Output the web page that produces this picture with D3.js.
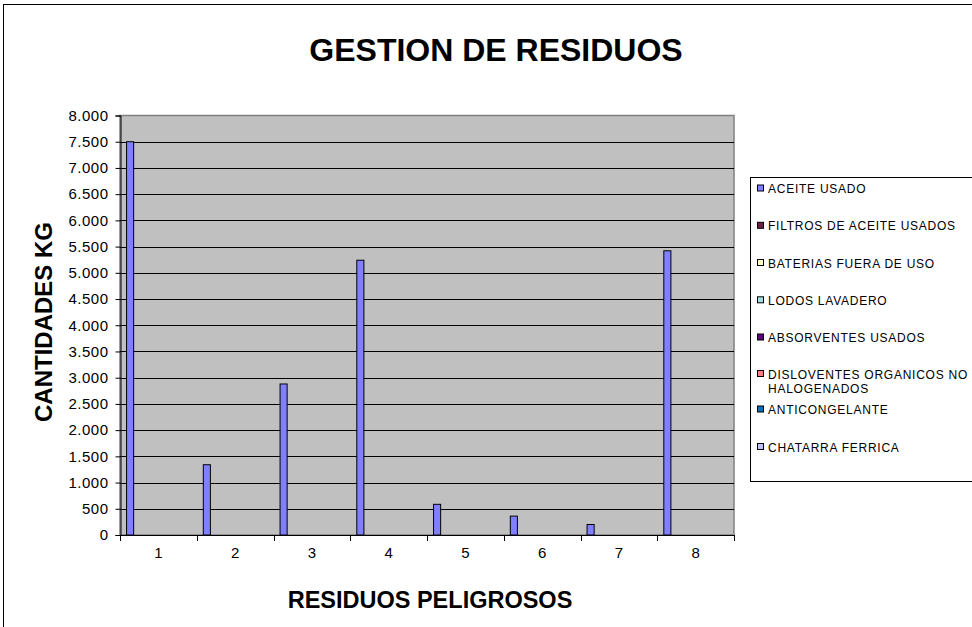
<!DOCTYPE html>
<html><head><meta charset="utf-8">
<script src="https://cdn.jsdelivr.net/npm/d3@7"></script>
<style>
html,body{margin:0;padding:0;background:#fff;}
svg{display:block;font-family:"Liberation Sans",Arial,sans-serif;}
</style></head>
<body>
<svg id="chart" width="972" height="627"></svg>
<script>
const categories = ["1","2","3","4","5","6","7","8"];
const seriesNames = ["ACEITE USADO","FILTROS DE ACEITE USADOS","BATERIAS FUERA DE USO","LODOS LAVADERO","ABSORVENTES USADOS","DISLOVENTES ORGANICOS NO HALOGENADOS","ANTICONGELANTE","CHATARRA FERRICA"];
const seriesColors = ["#8080ff","#6e1f4a","#ffffc0","#a0e0e0","#600080","#ff8080","#0070c0","#c0c0ff"];
const aceiteUsado = [7500, 1340, 2880, 5240, 585, 360, 200, 5420];
const filtros = [null,null,null,null,null,null,null,null];
const baterias = [null,null,null,null,null,null,null,null];
const lodos = [null,null,null,null,null,null,null,null];
const absorventes = [null,null,null,null,null,null,null,null];
const disolventes = [null,null,null,null,null,null,null,null];
const anticongelante = [null,null,null,null,null,null,null,null];
const chatarra = [null,null,null,null,null,null,null,null];
const yTicks = [0,500,1000,1500,2000,2500,3000,3500,4000,4500,5000,5500,6000,6500,7000,7500,8000];
const title = "GESTION DE RESIDUOS";
const xTitle = "RESIDUOS PELIGROSOS";
const yTitle = "CANTIDADES KG";

const seriesValues = [aceiteUsado, filtros, baterias, lodos, absorventes, disolventes, anticongelante, chatarra];

const svg = d3.select("#chart");
const W = 972, H = 627;
const plot = {left:120, right:734, top:115.5, bottom:535};

// outer chart border
svg.append("rect").attr("x",3.5).attr("y",4.5).attr("width",W+20).attr("height",H+20)
  .attr("fill","#fff").attr("stroke","#000").attr("stroke-width",1);

const x = d3.scaleBand().domain(categories).range([plot.left, plot.right]).padding(0);
const xs = d3.scaleBand().domain(seriesNames).range([0, x.bandwidth()]).paddingInner(0).paddingOuter(0.75);
const y = d3.scaleLinear().domain([0,8000]).range([plot.bottom, plot.top]);
const loc = d3.formatLocale({decimal:",", thousands:".", grouping:[3], currency:["",""]});
const fmt = loc.format(",");

// plot background
svg.append("rect").attr("x",plot.left).attr("y",plot.top).attr("width",plot.right-plot.left).attr("height",plot.bottom-plot.top)
  .attr("fill","#c0c0c0").attr("stroke","#808080").attr("stroke-width",1.5);

// gridlines
svg.append("g").selectAll("line").data(yTicks.filter(t=>t>0 && t<8000)).join("line")
  .attr("x1",plot.left).attr("x2",plot.right)
  .attr("y1",d=>Math.round(y(d))+0.5).attr("y2",d=>Math.round(y(d))+0.5)
  .attr("stroke","#000").attr("stroke-width",1);

// bars
const flat = [];
seriesValues.forEach((vals,si)=>vals.forEach((v,ci)=>{ if(v!=null) flat.push({s:seriesNames[si], c:categories[ci], v, col:seriesColors[si]}); }));
svg.append("g").selectAll("rect").data(flat).join("rect")
  .attr("x",d=>x(d.c)+xs(d.s)+0.5)
  .attr("y",d=>y(d.v))
  .attr("width",xs.bandwidth()-1)
  .attr("height",d=>plot.bottom-y(d.v))
  .attr("fill",d=>d.col).attr("stroke","#000").attr("stroke-width",1);

// y axis
const yAxis = d3.axisLeft(y).tickValues(yTicks).tickFormat(fmt).tickSize(5).tickPadding(7);
const gy = svg.append("g").attr("transform",`translate(${plot.left+0.5},0)`).call(yAxis);
gy.select(".domain").attr("stroke","#000");
gy.selectAll(".tick line").attr("stroke","#000");
gy.selectAll("text").attr("font-size",15).attr("letter-spacing","0.5px").attr("fill","#000").attr("font-family","Liberation Sans, Arial, sans-serif");

// x axis
const xAxis = d3.axisBottom(x).tickSize(0).tickPadding(12);
const gx = svg.append("g").attr("transform",`translate(0,${plot.bottom+0.5})`).call(xAxis);
gx.select(".domain").attr("stroke","#000").attr("d",`M${plot.left},0H${plot.right}`);
gx.selectAll("text").attr("font-size",15).attr("fill","#000").attr("font-family","Liberation Sans, Arial, sans-serif");
// category boundary ticks
svg.append("g").selectAll("line").data(categories).join("line")
  .attr("x1",d=>Math.round(x(d))+0.5).attr("x2",d=>Math.round(x(d))+0.5)
  .attr("y1",plot.bottom).attr("y2",plot.bottom+6).attr("stroke","#000");
svg.append("line").attr("x1",plot.right+0.5).attr("x2",plot.right+0.5).attr("y1",plot.bottom).attr("y2",plot.bottom+6).attr("stroke","#000");

// titles
svg.append("text").attr("x",496).attr("y",61).attr("text-anchor","middle")
  .attr("font-size",32).attr("font-weight","bold").text(title);
svg.append("text").attr("x",430).attr("y",608).attr("text-anchor","middle")
  .attr("font-size",23.5).attr("font-weight","bold").text(xTitle);
svg.append("text").attr("transform",`translate(52,322) rotate(-90)`).attr("text-anchor","middle")
  .attr("font-size",24).attr("font-weight","bold").text(yTitle);

// legend
const lg = svg.append("g");
lg.append("rect").attr("x",750.5).attr("y",177.5).attr("width",260).attr("height",304)
  .attr("fill","#fff").attr("stroke","#000");
const legendRows = [
  {name:seriesNames[0], lines:["ACEITE USADO"], yc:188.5},
  {name:seriesNames[1], lines:["FILTROS DE ACEITE USADOS"], yc:225.8},
  {name:seriesNames[2], lines:["BATERIAS FUERA DE USO"], yc:263},
  {name:seriesNames[3], lines:["LODOS LAVADERO"], yc:300.3},
  {name:seriesNames[4], lines:["ABSORVENTES USADOS"], yc:337.5},
  {name:seriesNames[5], lines:["DISLOVENTES ORGANICOS NO","HALOGENADOS"], yc:374},
  {name:seriesNames[6], lines:["ANTICONGELANTE"], yc:409.5},
  {name:seriesNames[7], lines:["CHATARRA FERRICA"], yc:447}
];
const items = lg.selectAll("g").data(legendRows).join("g");
items.append("rect").attr("x",757.5).attr("y",d=>d.yc-3.5).attr("width",6).attr("height",6)
  .attr("fill",(d,i)=>seriesColors[i]).attr("stroke","#000");
items.each(function(d){
  const t = d3.select(this).append("text").attr("x",768).attr("y",d.yc+4.5)
    .attr("font-size",12).attr("letter-spacing","0.75px");
  d.lines.forEach((ln,k)=>t.append("tspan").attr("x",768).attr("dy",k===0?0:14.5).text(ln));
});
</script>
</body></html>
